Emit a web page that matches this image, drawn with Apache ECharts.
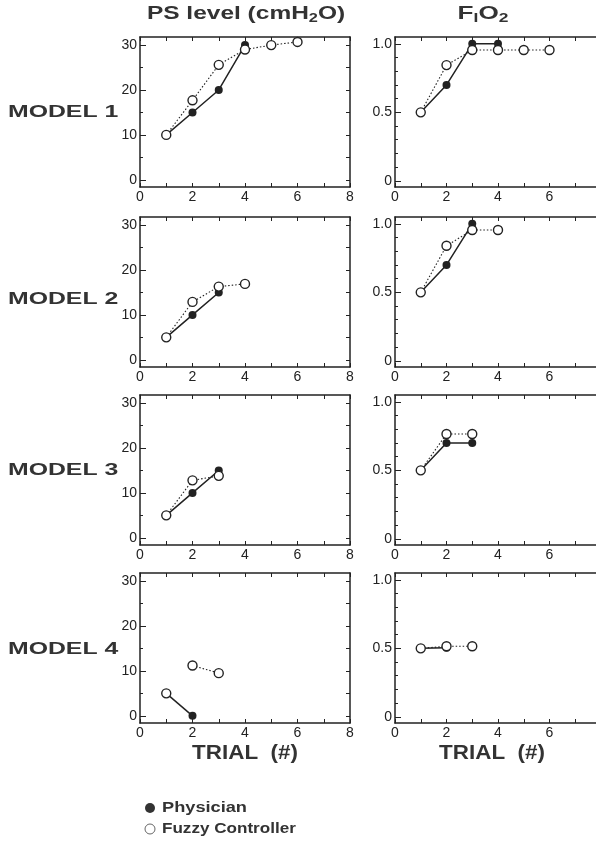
<!DOCTYPE html>
<html>
<head>
<meta charset="utf-8">
<script src="https://cdn.jsdelivr.net/npm/echarts@6/dist/echarts.min.js"></script>
<style>html,body{margin:0;padding:0;background:#fff}#c{width:596px;height:847px}</style>
</head>
<body>
<div id="c"></div>
<script>
// ---- data: [trial, value]; null = break in the line ----
const trialTicks = [0, 2, 4, 6, 8];
const psTicks = [0, 10, 20, 30];
const fio2Ticks = [0, 0.5, 1.0];
const models = ['MODEL 1', 'MODEL 2', 'MODEL 3', 'MODEL 4'];

const m1PsPhysician = [[1, 10], [2, 15], [3, 20], [4, 30]];
const m1PsFuzzy = [[1, 10], [2, 17.7], [3, 25.6], [4, 29], [5, 30], [6, 30.7]];
const m1FiPhysician = [[1, 0.5], [2, 0.7], [3, 1.0], [4, 1.0]];
const m1FiFuzzy = [[1, 0.5], [2, 0.845], [3, 0.955], [4, 0.955], [5, 0.955], [6, 0.955]];

const m2PsPhysician = [[1, 5], [2, 10], [3, 15]];
const m2PsFuzzy = [[1, 5], [2, 12.9], [3, 16.3], [4, 16.9]];
const m2FiPhysician = [[1, 0.5], [2, 0.7], [3, 1.0]];
const m2FiFuzzy = [[1, 0.5], [2, 0.84], [3, 0.955], [4, 0.955]];

const m3PsPhysician = [[1, 5], [2, 10], [3, 15]];
const m3PsFuzzy = [[1, 5], [2, 12.8], [3, 13.8]];
const m3FiPhysician = [[1, 0.5], [2, 0.7], [3, 0.7]];
const m3FiFuzzy = [[1, 0.5], [2, 0.765], [3, 0.765]];

const m4PsPhysician = [[1, 5], [2, 0]];
const m4PsFuzzy = [[1, 5], null, [2, 11.2], [3, 9.5]];
const m4FiPhysician = [[1, 0.5], [2, 0.505]];
const m4FiFuzzy = [[1, 0.5], [2, 0.515], [3, 0.515]];

const panels = [
  [m1PsPhysician, m1PsFuzzy, m1FiPhysician, m1FiFuzzy],
  [m2PsPhysician, m2PsFuzzy, m2FiPhysician, m2FiFuzzy],
  [m3PsPhysician, m3PsFuzzy, m3FiPhysician, m3FiFuzzy],
  [m4PsPhysician, m4PsFuzzy, m4FiPhysician, m4FiFuzzy]
];

// ---- layout ----
const colLeft = [140, 395];
const colWidth = [210, 206];
const rowTop = [37, 217, 395, 573];
const rowH = 150;
const ink = '#222';
const textInk = '#333';
const labelFont = 'Liberation Sans';

const grids = [], xAxes = [], yAxes = [], series = [];

function range(a, b, s) { const r = []; for (let v = a; v <= b + 1e-9; v += s) r.push(+v.toFixed(4)); return r; }

for (let r = 0; r < 4; r++) {
  for (let c = 0; c < 2; c++) {
    const g = grids.length;
    grids.push({ left: colLeft[c], top: rowTop[r], width: colWidth[c], height: rowH, outerBoundsMode: 'none', containLabel: false });
    const isPs = c === 0;
    const yMin = isPs ? -1.6 : -0.045;
    const yMax = isPs ? 31.8 : 1.05;
    const major = isPs ? psTicks : fio2Ticks;
    const minor = isPs ? range(0, 30, 5) : range(0, 1, 0.1);
    const xi = xAxes.length;
    xAxes.push({
      type: 'value', gridIndex: g, min: 0, max: 8, interval: 1, position: 'bottom',
      axisLine: { onZero: false, lineStyle: { color: ink, width: 1.5 } },
      axisTick: { inside: true, length: 4, lineStyle: { color: ink, width: 1 } },
      axisLabel: { customValues: trialTicks, color: ink, fontSize: 14, fontFamily: labelFont, margin: 3 },
      splitLine: { show: false }
    });
    xAxes.push({
      type: 'value', gridIndex: g, min: 0, max: 8, interval: 1, position: 'top',
      axisLine: { onZero: false, lineStyle: { color: ink, width: 1.5 } },
      axisTick: { inside: true, length: 4, lineStyle: { color: ink, width: 1 } },
      axisLabel: { show: false }, splitLine: { show: false }
    });
    const yi = yAxes.length;
    yAxes.push({
      type: 'value', gridIndex: g, min: yMin, max: yMax, position: 'left',
      axisLine: { onZero: false, lineStyle: { color: ink, width: 1.5 } },
      axisTick: { inside: true, length: 6, customValues: major, lineStyle: { color: ink, width: 1 } },
      axisLabel: {
        customValues: major, color: ink, fontSize: 14, fontFamily: labelFont, margin: 3,
        formatter: v => isPs ? String(v) : (v === 0 ? '0' : v.toFixed(1))
      },
      splitLine: { show: false }
    });
    yAxes.push({
      type: 'value', gridIndex: g, min: yMin, max: yMax, position: 'left',
      axisLine: { show: false },
      axisTick: { inside: true, length: 3, customValues: minor, lineStyle: { color: ink, width: 1 } },
      axisLabel: { show: false }, splitLine: { show: false }
    });
    yAxes.push({
      type: 'value', gridIndex: g, min: yMin, max: yMax, position: 'right',
      axisLine: { onZero: false, lineStyle: { color: ink, width: 1.5 } },
      axisTick: { inside: true, length: 4, customValues: minor, lineStyle: { color: ink, width: 1 } },
      axisLabel: { show: false }, splitLine: { show: false }
    });
    const phys = panels[r][c * 2];
    const fuzzy = panels[r][c * 2 + 1];
    const toData = arr => arr.map(p => p === null ? ['-', '-'] : p);
    series.push({
      name: 'Physician', type: 'line', xAxisIndex: xi, yAxisIndex: yi, data: toData(phys),
      symbol: 'circle', symbolSize: 8, z: 3, connectNulls: false,
      itemStyle: { color: ink },
      lineStyle: { color: ink, width: 1.5, type: 'solid' }
    });
    series.push({
      name: 'Fuzzy Controller', type: 'line', xAxisIndex: xi, yAxisIndex: yi, data: toData(fuzzy),
      symbol: 'circle', symbolSize: 9, z: 4, connectNulls: false,
      itemStyle: { color: '#fff', borderColor: ink, borderWidth: 1.4 },
      lineStyle: { color: ink, width: 1.1, type: [1.5, 2] }
    });
  }
}

const boldText = (txt, x, y, size, sx, align) => ({
  type: 'text', x: x, y: y, scaleX: sx,
  style: { text: txt, fontFamily: labelFont, fontWeight: 'bold', fontSize: size, fill: textInk,
           align: align || 'center', verticalAlign: 'middle' }
});

const graphics = [];
graphics.push({
  type: 'text', x: 246, y: 14, scaleX: 1.36,
  style: {
    text: '{a|PS level (cmH}{s|2}{a|O)}', align: 'center', verticalAlign: 'middle',
    rich: {
      a: { fontFamily: labelFont, fontWeight: 'bold', fontSize: 18, fill: textInk, lineHeight: 22 },
      s: { fontFamily: labelFont, fontWeight: 'bold', fontSize: 12, fill: textInk, lineHeight: 22, padding: [9, 0, 0, 0] }
    }
  }
});
graphics.push({
  type: 'text', x: 483, y: 14, scaleX: 1.45,
  style: {
    text: '{a|F}{s|I}{a|O}{s|2}', align: 'center', verticalAlign: 'middle',
    rich: {
      a: { fontFamily: labelFont, fontWeight: 'bold', fontSize: 18, fill: textInk, lineHeight: 22 },
      s: { fontFamily: labelFont, fontWeight: 'bold', fontSize: 12, fill: textInk, lineHeight: 22, padding: [9, 0, 0, 0] }
    }
  }
});
const modelY = [113, 300, 471, 650];
models.forEach((m, i) => graphics.push(boldText(m, 8, modelY[i], 16, 1.55, 'left')));
graphics.push(boldText('TRIAL  (#)', 245, 753, 20, 1.12));
graphics.push(boldText('TRIAL  (#)', 492, 753, 20, 1.12));
graphics.push({ type: 'circle', shape: { cx: 150, cy: 808, r: 5 }, style: { fill: textInk } });
graphics.push({ type: 'circle', shape: { cx: 150, cy: 829, r: 5 }, style: { fill: '#fff', stroke: '#666', lineWidth: 1 } });
graphics.push(boldText('Physician', 162, 808, 14, 1.3, 'left'));
graphics.push(boldText('Fuzzy Controller', 162, 829, 14, 1.22, 'left'));

const chart = echarts.init(document.getElementById('c'), null, { renderer: 'canvas' });
chart.setOption({
  animation: false,
  backgroundColor: '#fff',
  grid: grids, xAxis: xAxes, yAxis: yAxes, series: series,
  graphic: graphics
});
</script>
</body>
</html>
